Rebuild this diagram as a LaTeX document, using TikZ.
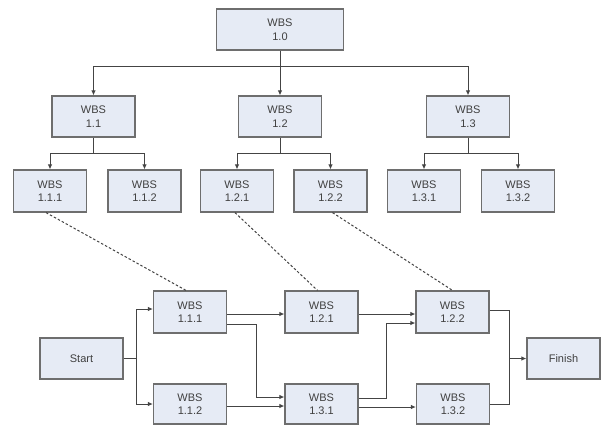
\documentclass[tikz,border=0pt]{standalone}
\usepackage{fontspec}
\setmainfont{Liberation Sans}
\usetikzlibrary{arrows.meta,calc}
\definecolor{boxfill}{HTML}{E6EBF5}
\definecolor{boxline}{HTML}{6E6E6E}
\definecolor{lineclr}{HTML}{444444}
\definecolor{txt}{HTML}{404040}
\tikzset{
  wbs/.style={draw=boxline, line width=1.2pt, fill=boxfill, align=center,
    text=txt, font=\fontsize{11}{13.5}\selectfont, inner sep=0pt},
  top/.style={wbs, minimum width=127pt, minimum height=41pt},
  lvltwo/.style={wbs, minimum width=83pt, minimum height=41pt},
  lvlthree/.style={wbs, minimum width=73pt, minimum height=42pt},
  net/.style={wbs, minimum width=73pt, minimum height=42pt},
  conn/.style={draw=lineclr, line width=1pt},
  arr/.style={conn, -{Latex[length=5pt,width=4.5pt]}},
  dsh/.style={draw=lineclr, line width=1pt, dash pattern=on 2.5pt off 2pt}
}
\begin{document}
\begin{tikzpicture}[x=1pt,y=-1pt]
\useasboundingbox (0,0) rectangle (603,426);
% tree
\node[top] (w10) at (280,29.5) {WBS\\1.0};
\node[lvltwo] (w11) at (93.5,116.5) {WBS\\1.1};
\node[lvltwo] (w12) at (280,116.5) {WBS\\1.2};
\node[lvltwo] (w13) at (468,116.5) {WBS\\1.3};
\node[lvlthree] (t111) at (50,191) {WBS\\1.1.1};
\node[lvlthree] (t112) at (144.5,191) {WBS\\1.1.2};
\node[lvlthree] (t121) at (237,191) {WBS\\1.2.1};
\node[lvlthree] (t122) at (330.5,191) {WBS\\1.2.2};
\node[lvlthree] (t131) at (424,191) {WBS\\1.3.1};
\node[lvlthree] (t132) at (518,191) {WBS\\1.3.2};
\coordinate (busA) at (0,66);
\coordinate (busB) at (0,153);
\draw[arr] (w10.south) -- (w10.south |- busA) -| (w11.north);
\draw[arr] (w10.south) -- (w12.north);
\draw[arr] (w10.south |- busA) -| (w13.north);
\draw[arr] (w11.south) -- (w11.south |- busB) -| (t111.north);
\draw[arr] (w11.south |- busB) -| (t112.north);
\draw[arr] (w12.south) -- (w12.south |- busB) -| (t121.north);
\draw[arr] (w12.south |- busB) -| (t122.north);
\draw[arr] (w13.south) -- (w13.south |- busB) -| (t131.north);
\draw[arr] (w13.south |- busB) -| (t132.north);
% network
\node[lvltwo] (start) at (81.5,358.5) {Start};
\node[net] (n111) at (190,312) {WBS\\1.1.1};
\node[net] (n121) at (321.5,312) {WBS\\1.2.1};
\node[net] (n122) at (452.5,312) {WBS\\1.2.2};
\node[net, minimum height=40pt] (n112) at (190,404) {WBS\\1.1.2};
\node[net, minimum height=40pt] (n131) at (321.5,404) {WBS\\1.3.1};
\node[net, minimum height=40pt] (n132) at (453,404) {WBS\\1.3.2};
\node[net, minimum height=41pt] (fin) at (563.5,358.5) {Finish};
\coordinate (js) at (136,358.5);
\coordinate (jf) at (509,358.5);
\draw[conn] (start.east) -- (js);
\draw[arr] (js) |- ([yshift=3pt]n111.west);
\draw[arr] (js) |- (n112.west);
\draw[arr] ([yshift=-2pt]n111.east) -- ([yshift=-2pt]n121.west);
\draw[arr] ([yshift=-12pt]n111.east) -- ++(29,0) |- ([yshift=7pt]n131.west);
\draw[arr] ([yshift=-2pt]n112.east) -- ([yshift=-2pt]n131.west);
\draw[arr] ([yshift=-2pt]n121.east) -- ([yshift=-2pt]n122.west);
\draw[arr] ([yshift=6pt]n131.east) -- ++(28,0) |- ([yshift=-11pt]n122.west);
\draw[arr] ([yshift=-3pt]n131.east) -- ([yshift=-3pt]n132.west);
\draw[conn] ([yshift=2pt]n122.east) -| (jf);
\draw[conn] (n132.east) -| (jf);
\draw[arr] (jf) -- (fin.west);
% dashed links
\draw[dsh] ([xshift=-4pt]t111.south) -- ([xshift=-4pt]n111.north);
\draw[dsh] ([xshift=-2pt]t121.south) -- ([xshift=-4pt]n121.north);
\draw[dsh] ([xshift=2pt]t122.south) -- (n122.north);
\end{tikzpicture}
\end{document}
